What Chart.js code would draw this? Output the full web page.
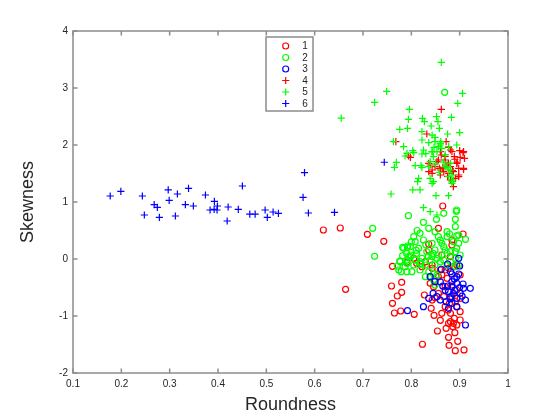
<!DOCTYPE html>
<html><head><meta charset="utf-8">
<script src="https://cdn.jsdelivr.net/npm/chart.js@4/dist/chart.umd.min.js"></script>
<style>html,body{margin:0;padding:0;background:#fff;}#wrap{width:560px;height:420px;}</style>
</head><body><div id="wrap"><canvas id="c" width="560" height="420"></canvas></div>
<script>
const seriesLabels = ['1','2','3','4','5','6'];
const xTicks = [0.1,0.2,0.3,0.4,0.5,0.6,0.7,0.8,0.9,1];
const xTickLabels = ['0.1','0.2','0.3','0.4','0.5','0.6','0.7','0.8','0.9','1'];
const yTicks = [-2,-1,0,1,2,3,4];
const yTickLabels = ['-2','-1','0','1','2','3','4'];

const series1 = [[0.618,0.509],[0.653,0.544],[0.709,0.433],[0.743,0.31],[0.761,-0.128],[0.664,-0.532],[0.759,-0.474],[0.780,-0.409],[0.780,-0.584],[0.771,-0.649],[0.761,-0.777],[0.778,-0.912],[0.765,-0.947],[0.791,-0.058],
[0.806,-0.971],[0.827,-0.632],[0.841,-0.865],[0.843,-0.72],[0.849,-0.68],[0.847,-0.988],[0.86,-1.075],[0.854,-1.263],[0.823,-1.496],[0.872,-1.216],[0.881,-1.1],[0.877,-1.374],[0.896,-1.444],[0.878,-1.514],[0.891,-1.609],[0.909,-1.596],[0.89,-1.293],[0.886,-1.188],[0.894,-1.158],[0.889,-1.04],[0.881,-0.953],[0.876,-0.895],[0.894,-0.837],[0.891,-0.749],[0.884,-0.661],[0.879,-0.777],[0.867,-0.661],[0.856,-0.602],[0.87,-0.486],[0.884,-0.456],[0.894,-0.544],[0.901,-0.69],[0.901,-0.924],[0.887,-1.128],[0.901,-1.07],[0.877,-1.128],[0.863,-0.953],[0.87,-0.837],[0.846,-0.486],[0.839,-0.426],[0.849,-0.368],[0.863,-0.281],[0.846,-0.251],[0.87,-0.193],[0.843,-0.105],[0.822,-0.135],[0.811,-0.076],[0.829,-0.047],[0.887,-0.135],
[0.865,0.93],[0.856,0.539],[0.836,0.263],[0.907,0.439],[0.884,0.333],[0.884,0.246],[0.843,-0.164],[0.86,-0.193],[0.877,-0.164],[0.894,-0.105],[0.881,0.04],[0.863,0.07],[0.836,0.158],[0.805,0.012],[0.856,-0.31],[0.874,-0.339],[0.901,-0.281]];

const series2 = [[0.869,2.924],[0.894,0.86],[0.794,0.76],[0.72,0.539],[0.724,0.047],[0.782,0.205],[0.792,0.205],[0.782,0.058],[0.776,-0.035],[0.771,-0.123],[0.779,-0.222],[0.791,-0.222],[0.787,-0.135],[0.791,-0.018],[0.798,0.04],
[0.825,0.644],[0.852,0.696],[0.867,0.802],[0.893,0.837],[0.891,0.696],[0.891,0.567],[0.836,0.539],[0.849,0.48],[0.818,0.451],[0.805,0.392],[0.808,0.304],[0.825,0.333],[0.856,0.392],[0.874,0.48],[0.874,0.392],[0.898,0.421],[0.912,0.345],[0.887,0.304],[0.863,0.275],[0.843,0.275],[0.798,0.216],[0.784,0.187],[0.815,0.187],[0.832,0.128],[0.849,0.158],[0.87,0.158],[0.894,0.187],[0.901,0.07],[0.881,0.128],[0.794,0.04],[0.808,-0.018],[0.822,0.012],[0.839,-0.018],[0.853,0.012],[0.867,-0.018],[0.881,-0.047],[0.791,-0.076],[0.805,-0.105],[0.829,-0.105],[0.777,-0.047],[0.801,-0.222],[0.774,-0.193],[0.818,-0.193],[0.836,-0.222],[0.849,-0.105],[0.853,-0.281],[0.846,-0.368],[0.829,-0.31],
[0.879,0.439],[0.894,0.404],[0.792,0.228],[0.867,0.216],[0.898,0.275],[0.799,0.07],[0.811,0.1],[0.843,0.04],[0.856,0.07],[0.874,0.1],[0.891,0.128],[0.891,0.012],[0.818,-0.047],[0.874,-0.105],[0.891,-0.135],[0.846,-0.251],[0.839,-0.31],[0.849,-0.456],[0.898,-0.105],
[0.812,0.5],[0.83,0.25],[0.86,0.33],[0.8,0.3],[0.82,-0.08],[0.845,0.1],[0.86,-0.05],[0.81,0.15],[0.835,0.05],[0.79,0.1]];

const series3 = [[0.792,-0.906],[0.825,-0.837],[0.836,-0.69],[0.839,-0.31],[0.849,-0.398],[0.862,-0.18],[0.875,-0.088],[0.9,-0.123],[0.884,-0.263],[0.898,-0.263],[0.865,-0.474],[0.875,-0.474],[0.884,-0.486],[0.894,-0.426],[0.907,-0.439],[0.908,-0.514],[0.901,-0.602],[0.887,-0.602],[0.877,-0.573],[0.881,-0.661],[0.894,-0.69],[0.912,-0.72],[0.853,-0.661],[0.86,-0.72],[0.872,-0.749],[0.884,-0.777],[0.894,-0.837],[0.877,-0.865],[0.912,-1.158],[0.845,-0.602],[0.898,0.012],[0.894,-0.31],[0.884,-0.398],[0.922,-0.514],[0.881,-0.222],[0.87,-0.55],[0.889,-0.35],[0.9,-0.5],[0.88,-0.7],[0.86,-0.4],[0.905,-0.65],[0.89,-0.55]];

const series4 = [[0.862,2.626],[0.832,2.193],[0.768,2.058],[0.872,2.058],[0.881,1.912],[0.908,1.883],[0.901,1.784],[0.91,1.767],[0.798,1.784],[0.862,1.825],[0.87,1.737],[0.889,1.795],[0.894,1.678],[0.908,1.591],[0.856,1.737],[0.839,1.649],[0.836,1.532],[0.843,1.503],[0.86,1.561],[0.881,1.62],[0.887,1.532],[0.898,1.474],[0.891,1.416],[0.86,1.474],[0.887,1.269],[0.877,1.678],[0.898,1.591],[0.849,1.62],[0.794,1.807],[0.877,1.959],[0.884,1.883],[0.907,1.865],[0.853,1.707],[0.836,1.678],[0.843,1.561],[0.858,1.591],[0.867,1.532],[0.877,1.503],[0.908,1.573],[0.898,1.444],[0.881,1.386],[0.874,1.649],[0.86,1.883],[0.87,1.8],[0.89,1.75],[0.9,1.9],[0.865,1.6],[0.885,1.55],[0.875,1.45],[0.895,1.7]];

const series5 = [[0.862,3.45],[0.749,2.942],[0.724,2.749],[0.906,2.907],[0.896,2.731],[0.796,2.626],[0.794,2.451],[0.823,2.468],[0.827,2.409],[0.852,2.497],[0.855,2.409],[0.883,2.486],[0.776,2.275],[0.792,2.293],[0.822,2.234],[0.841,2.333],[0.858,2.293],[0.9,2.216],[0.875,2.193],[0.836,2.041],[0.849,2.135],[0.861,2.058],[0.784,1.971],[0.763,2.058],[0.803,1.9],[0.787,1.807],[0.822,1.842],[0.843,1.883],[0.877,1.971],[0.894,2.0],[0.847,1.959],[0.86,2.0],[0.765,1.608],[0.769,1.696],[0.808,1.637],[0.822,1.608],[0.839,1.708],[0.836,1.62],[0.874,1.62],[0.881,1.561],[0.815,1.416],[0.813,1.357],[0.839,1.416],[0.843,1.328],[0.877,1.444],[0.884,1.357],[0.758,1.14],[0.803,1.211],[0.818,1.211],[0.851,1.111],[0.877,1.111],[0.825,0.9],[0.839,0.83],[0.853,0.772],[0.655,2.47],[0.86,2.03],[0.856,1.971],[0.863,1.94],[0.853,1.883],[0.87,1.83],[0.846,1.795],[0.881,1.678],[0.87,1.62],[0.877,1.561],[0.884,1.474],[0.887,1.386],[0.884,1.328],[0.846,1.357],[0.825,1.912],[0.791,1.854],[0.805,1.865],[0.83,1.85],[0.843,1.88],[0.843,2.175],[0.822,2.088],[0.849,2.06],[0.82,1.64],[0.85,1.67],[0.858,1.52],[0.866,1.7]];

const series6 = [[0.177,1.105],[0.199,1.188],[0.2435,1.105],[0.297,1.211],[0.316,1.14],[0.339,1.24],[0.299,1.03],[0.268,0.953],[0.2745,0.907],[0.2476,0.772],[0.2787,0.732],[0.3118,0.754],[0.3325,0.953],[0.349,0.93],[0.374,1.123],[0.3925,1.012],[0.3988,0.93],[0.3836,0.86],[0.392,0.872],[0.398,0.86],[0.421,0.912],[0.442,0.872],[0.4505,1.281],[0.419,0.667],[0.4658,0.789],[0.4768,0.789],[0.4975,0.86],[0.502,0.732],[0.514,0.825],[0.525,0.802],[0.579,1.514],[0.576,1.082],[0.587,0.807],[0.641,0.819],[0.744,1.697]];

const seriesData = [series1, series2, series3, series4, series5, series6];
const seriesColors = ['#ff0000','#00ff00','#0000ff','#ff0000','#00ff00','#0000ff'];
const seriesMarkers = ['circle','circle','circle','cross','cross','cross'];

const FONT = "'Liberation Sans', Arial, Helvetica, sans-serif";
const AXIS_COLOR = '#8c8c8c';
const TEXT_COLOR = '#262626';

const datasets = seriesData.map((pts, i) => ({
  label: seriesLabels[i],
  data: pts.map(p => ({x: p[0], y: p[1]})),
  pointStyle: seriesMarkers[i],
  pointRadius: seriesMarkers[i] === 'circle' ? 3 : 3.6,
  pointHoverRadius: seriesMarkers[i] === 'circle' ? 3 : 3.6,
  borderColor: seriesColors[i],
  backgroundColor: 'rgba(0,0,0,0)',
  pointBorderWidth: 1.2,
  borderWidth: 1.2,
  showLine: false,
  order: 6 - i
}));

function drawMarker(ctx, style, x, y, color) {
  ctx.save();
  ctx.strokeStyle = color;
  ctx.lineWidth = 1.2;
  ctx.beginPath();
  if (style === 'circle') {
    ctx.arc(x, y, 3, 0, Math.PI * 2);
  } else {
    ctx.moveTo(x - 3.6, y); ctx.lineTo(x + 3.6, y);
    ctx.moveTo(x, y - 3.6); ctx.lineTo(x, y + 3.6);
  }
  ctx.stroke();
  ctx.restore();
}

const boxPlugin = {
  id: 'matlabBox',
  afterDatasetsDraw(chart) {
    const {ctx, chartArea: a, scales} = chart;
    ctx.save();
    ctx.strokeStyle = AXIS_COLOR;
    ctx.lineWidth = 1.5;
    const tl = 4.5;
    ctx.beginPath();
    scales.x.ticks.forEach(t => {
      const px = scales.x.getPixelForValue(t.value);
      ctx.moveTo(px, a.bottom); ctx.lineTo(px, a.bottom - tl);
      ctx.moveTo(px, a.top); ctx.lineTo(px, a.top + tl);
    });
    scales.y.ticks.forEach(t => {
      const py = scales.y.getPixelForValue(t.value);
      ctx.moveTo(a.left, py); ctx.lineTo(a.left + tl, py);
      ctx.moveTo(a.right, py); ctx.lineTo(a.right - tl, py);
    });
    ctx.stroke();
    ctx.strokeRect(a.left, a.top, a.right - a.left, a.bottom - a.top);
    // legend
    const lx = 266, ly = 37, lw = 47, lh = 74;
    ctx.fillStyle = '#ffffff';
    ctx.fillRect(lx, ly, lw, lh);
    ctx.strokeStyle = AXIS_COLOR;
    ctx.lineWidth = 1.5;
    ctx.strokeRect(lx, ly, lw, lh);
    ctx.font = '10px ' + FONT;
    ctx.textAlign = 'center';
    ctx.textBaseline = 'middle';
    chart.data.datasets.forEach((ds, i) => {
      const yy = ly + 9 + i * 11.5;
      drawMarker(ctx, ds.pointStyle, 285.7, yy, ds.borderColor);
      ctx.fillStyle = TEXT_COLOR;
      ctx.fillText(ds.label, 305, yy + 0.5);
    });
    ctx.restore();
  }
};

new Chart(document.getElementById('c'), {
  type: 'scatter',
  data: { datasets },
  options: {
    responsive: false,
    animation: false,
    devicePixelRatio: 1,
    layout: { padding: { top: 31, right: 52, left: 0, bottom: 0 } },
    plugins: { legend: { display: false }, tooltip: { enabled: false } },
    scales: {
      x: {
        type: 'linear', position: 'bottom', min: 0.1, max: 1,
        afterBuildTicks: s => { s.ticks = xTicks.map(v => ({ value: v })); },
        afterFit: s => { s.height = 47; },
        grid: { display: false, drawTicks: false },
        border: { display: false },
        ticks: { callback: (v, i) => xTickLabels[i], padding: 5, autoSkip: false, maxRotation: 0,
                 font: { family: FONT, size: 10 }, color: TEXT_COLOR },
        title: { display: true, text: 'Roundness', color: TEXT_COLOR,
                 font: { family: FONT, size: 18 }, padding: { top: 0, bottom: 4 } }
      },
      y: {
        type: 'linear', position: 'left', min: -2, max: 4,
        afterBuildTicks: s => { s.ticks = yTicks.map(v => ({ value: v })); },
        afterFit: s => { s.width = 73; },
        grid: { display: false, drawTicks: false },
        border: { display: false },
        ticks: { callback: (v, i) => yTickLabels[i], padding: 5, autoSkip: false,
                 font: { family: FONT, size: 10 }, color: TEXT_COLOR },
        title: { display: true, text: 'Skewness', color: TEXT_COLOR,
                 font: { family: FONT, size: 18 }, padding: { top: 17, bottom: 17 } }
      }
    }
  },
  plugins: [boxPlugin]
});
</script></body></html>
